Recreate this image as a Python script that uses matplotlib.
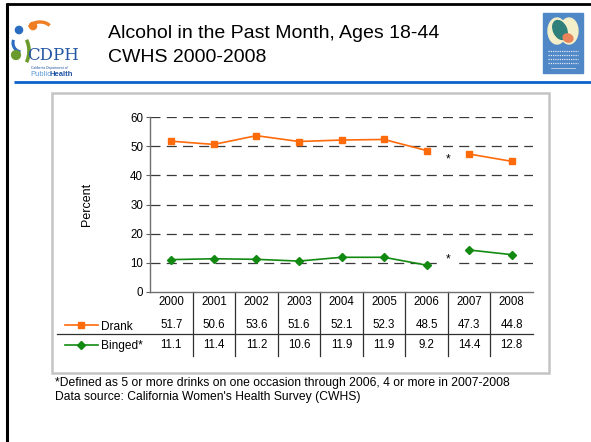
import numpy as np
import matplotlib.pyplot as plt
from matplotlib.patches import Rectangle, Circle, Ellipse, Arc

plt.rcParams['font.family'] = ['Liberation Sans', 'DejaVu Sans']

# ---- data -------------------------------------------------------------
years = ['2000', '2001', '2002', '2003', '2004', '2005', '2006', '2007', '2008']
drank = [51.7, 50.6, 53.6, 51.6, 52.1, 52.3, 48.5, 47.3, 44.8]
binged = [11.1, 11.4, 11.2, 10.6, 11.9, 11.9, 9.2, 14.4, 12.8]
series_names = ['Drank', 'Binged*']
break_after = 6          # definition of binge changed after 2006
star_y = [45.6, 11.0]     # where the "*" gap markers sit
yticks = [0, 10, 20, 30, 40, 50, 60]

W, H = 591, 442
ORANGE = '#ff6a0a'
GREEN = '#128a12'

fig = plt.figure(figsize=(W / 100, H / 100), dpi=100)

# ---- slide background (pixel coordinates) -----------------------------
bg = fig.add_axes([0, 0, 1, 1])
bg.set_xlim(0, W)
bg.set_ylim(H, 0)
bg.axis('off')

# slide frame and header rule
bg.plot([7, 7], [3, H], color='black', lw=2.2, solid_capstyle='butt')
bg.plot([6, W], [4, 4], color='black', lw=2.0, solid_capstyle='butt')
bg.plot([14, W], [81.5, 81.5], color='#0a62c9', lw=2.0, solid_capstyle='butt')

# chart frame
bg.add_patch(Rectangle((52, 93), 497, 280, fill=False, ec='#c4c4c4', lw=1.8))

# CDPH logo (simplified)
bg.add_patch(Circle((19, 30), 3.6, color='#2a6cc0'))
bg.add_patch(Arc((22, 43), 18, 18, theta1=100, theta2=200, color='#2a6cc0', lw=2.2))
bg.add_patch(Circle((33, 26), 3.6, color='#ef7d22'))
bg.add_patch(Arc((40, 29), 22, 14, theta1=190, theta2=340, color='#ef7d22', lw=2.4))
bg.add_patch(Circle((16, 55), 4.4, color='#6a9a2c'))
bg.add_patch(Arc((20, 51), 18, 32, theta1=-60, theta2=60, color='#6a9a2c', lw=2.6))
bg.text(27, 56, 'CDPH', fontsize=12, family='DejaVu Serif', color='#2255a4',
        ha='left', va='center')
bg.text(31, 67.5, 'California Department of', fontsize=2.4, color='#2255a4',
        ha='left', va='center')
bg.text(30, 74, 'Public', fontsize=5.5, color='#5b9ad8', ha='left', va='center')
bg.text(49, 74, 'Health', fontsize=5.5, color='#2255a4', fontweight='bold',
        ha='left', va='center')

# program logo on the right (simplified)
bg.add_patch(Rectangle((543, 13), 40, 60, color='#4f87c7'))
bg.add_patch(Ellipse((557, 31), 18, 26, color='#f3efc8'))
bg.add_patch(Ellipse((569, 31), 18, 26, color='#f3efc8'))
bg.add_patch(Ellipse((560, 30), 13, 20, angle=-25, color='#2f7f7a'))
bg.add_patch(Ellipse((568, 38), 10, 8, angle=20, color='#e8835a'))
for yy in (51, 55, 59, 63):
    bg.plot([548, 578], [yy, yy], color='#dfe8f4', lw=0.9, ls=(0, (1, 0.8)))
bg.plot([551, 575], [68, 68], color='#dfe8f4', lw=0.5)

# header title
bg.text(108, 33, 'Alcohol in the Past Month, Ages 18-44', fontsize=14,
        ha='left', va='center')
bg.text(108, 57, 'CWHS 2000-2008', fontsize=14, ha='left', va='center')

# footnotes
bg.text(55, 383, '*Defined as 5 or more drinks on one occasion through 2006, '
        '4 or more in 2007-2008', fontsize=8.7, ha='left', va='center')
bg.text(55, 397, "Data source: California Women's Health Survey (CWHS)",
        fontsize=8.7, ha='left', va='center')

# ---- chart -------------------------------------------------------------
left, right, top, bottom = 150, 533, 117, 292
ax = fig.add_axes([left / W, 1 - bottom / H, (right - left) / W, (bottom - top) / H])
ax.set_facecolor('none')

x = np.arange(len(years))
seg1 = slice(0, break_after + 1)
seg2 = slice(break_after + 1, None)
for vals, col, mk, ms in [(drank, ORANGE, 's', 4.8), (binged, GREEN, 'D', 3.6)]:
    v = np.array(vals)
    for s in (seg1, seg2):
        ax.plot(x[s], v[s], color=col, lw=1.2, marker=mk, ms=ms, mec=col,
                mfc=col, zorder=3, clip_on=False)

for sy in star_y:
    ax.text(break_after + 0.5, sy, '*', fontsize=8.5, ha='center', va='center',
            zorder=2, bbox=dict(boxstyle='square,pad=0.25', fc='white', ec='none'))

ax.set_xlim(-0.5, len(years) - 0.5)
ax.set_ylim(0, 60)
ax.set_yticks(yticks)
ax.set_yticklabels([str(t) for t in yticks], fontsize=8.3)
ax.tick_params(axis='y', length=3, width=0.8, color='#606060', pad=2)
ax.set_xticks([])
for t in yticks[1:]:
    ax.axhline(t, color='#3a3a3a', lw=0.9, ls=(0, (8, 5)), zorder=1)

for side in ('top', 'right'):
    ax.spines[side].set_visible(False)
for side in ('left', 'bottom'):
    ax.spines[side].set_color('#707070')
    ax.spines[side].set_linewidth(1.0)
ax.spines['bottom'].set_zorder(4)

ax.set_ylabel('Percent', fontsize=9, labelpad=27)

# ---- data table under the axis ----------------------------------------
px = 1.0 / (bottom - top)       # one pixel in axes-fraction units
xtr = ax.get_xaxis_transform()
row_year = -(302 - bottom) * px
row_drank = -(325 - bottom) * px
row_binge = -(345 - bottom) * px
table_bottom = -(356 - bottom) * px
divider = -(334 - bottom) * px
col_w = (right - left) / len(years)

for b in np.arange(0.5, len(years) - 1, 1.0):
    ax.plot([b, b], [0, table_bottom], transform=xtr, color='#303030', lw=0.9,
            clip_on=False)
ax.plot([-0.5 - (left - 57) / col_w, len(years) - 0.5], [divider, divider],
        transform=xtr, color='#303030', lw=0.9, clip_on=False)

for i, yr in enumerate(years):
    ax.text(i, row_year, yr, transform=xtr, fontsize=8.3, ha='center', va='center')
    ax.text(i, row_drank, f'{drank[i]:.1f}', transform=xtr, fontsize=8.3,
            ha='center', va='center')
    ax.text(i, row_binge, f'{binged[i]:.1f}', transform=xtr, fontsize=8.3,
            ha='center', va='center')

# legend keys in the row headers
atr = ax.transAxes
k0 = (65 - left) / (right - left)
k1 = (98 - left) / (right - left)
km = (81 - left) / (right - left)
kt = (101 - left) / (right - left)
for name, row, col, mk, ms in [(series_names[0], row_drank, ORANGE, 's', 4.8),
                               (series_names[1], row_binge, GREEN, 'D', 3.6)]:
    ax.plot([k0, k1], [row, row], transform=atr, color=col, lw=1.2, clip_on=False)
    ax.plot([km], [row], transform=atr, marker=mk, ms=ms, color=col, clip_on=False)
    ax.text(kt, row - 1.5 * px, name, transform=atr, fontsize=8.6, ha='left',
            va='center')

fig.savefig('out.png', dpi=100)
